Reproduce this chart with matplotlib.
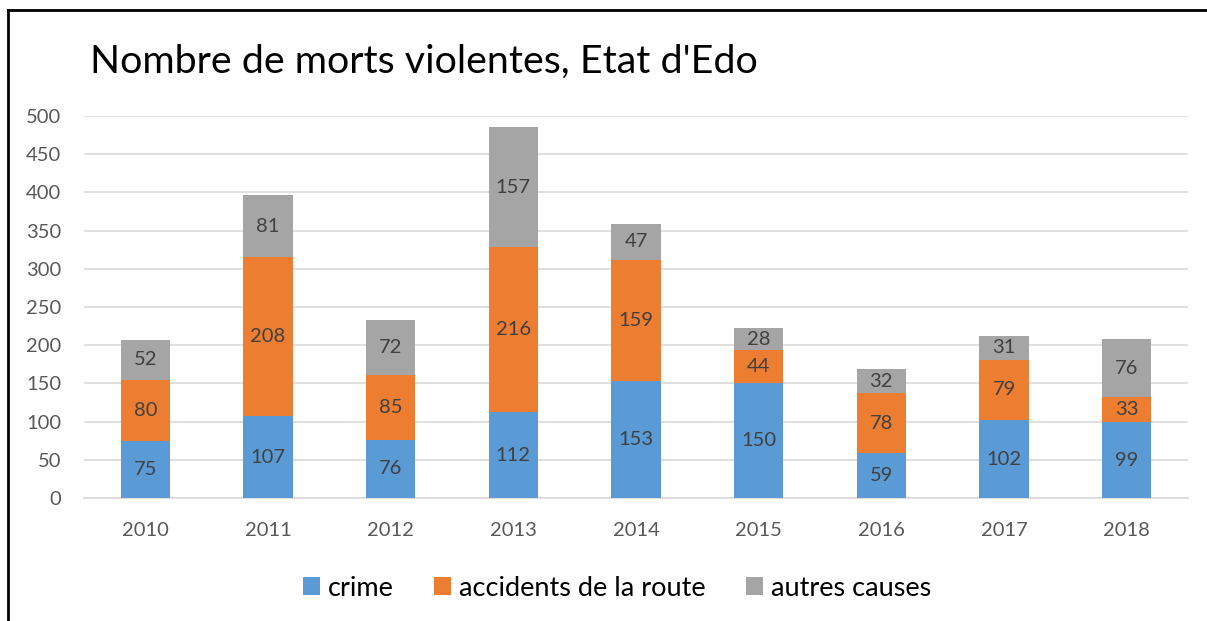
import matplotlib.pyplot as plt
import numpy as np

years = ["2010", "2011", "2012", "2013", "2014", "2015", "2016", "2017", "2018"]
crime = [75, 107, 76, 112, 153, 150, 59, 102, 99]
accidents = [80, 208, 85, 216, 159, 44, 78, 79, 33]
autres = [52, 81, 72, 157, 47, 28, 32, 31, 76]
series_names = ["crime", "accidents de la route", "autres causes"]
colors = ["#5B9BD5", "#ED7D31", "#A5A5A5"]

plt.rcParams["font.family"] = ["Lato", "DejaVu Sans"]

fig = plt.figure(figsize=(12.07, 6.21), dpi=100)
ax = fig.add_axes([84 / 1207, 1 - 498 / 621, 1104 / 1207, 382 / 621])

x = np.arange(len(years))
bottom = np.zeros(len(years))
handles = []
for vals, name, col in zip([crime, accidents, autres], series_names, colors):
    bars = ax.bar(x, vals, 0.4, bottom=bottom, color=col, label=name, zorder=3)
    handles.append(bars)
    for xi, b, v in zip(x, bottom, vals):
        ax.text(xi, b + v / 2, str(v), ha="center", va="center",
                fontsize=14.5, color="#404040", zorder=4)
    bottom += np.array(vals)

ax.set_xlim(-0.5, len(years) - 0.5)
ax.set_ylim(0, 500)
ax.set_yticks(np.arange(0, 501, 50))
ax.set_xticks(x)
ax.set_xticklabels(years)
ax.yaxis.grid(True, color="#D9D9D9", linewidth=1.2, zorder=0)
for s in ["top", "right", "left"]:
    ax.spines[s].set_visible(False)
ax.spines["bottom"].set_color("#D9D9D9")
ax.spines["bottom"].set_linewidth(1.2)
ax.tick_params(axis="both", length=0, labelsize=14.5, colors="#595959")
ax.tick_params(axis="x", pad=17.5)
ax.tick_params(axis="y", pad=16.5)

fig.text(90 / 1207, 1 - 62 / 621, "Nombre de morts violentes, Etat d'Edo",
         fontsize=28.4, color="black", va="center", ha="left")

fig.legend(handles=handles, labels=series_names, loc="center",
           bbox_to_anchor=(617 / 1207, 1 - 588 / 621), ncol=3, frameon=False,
           fontsize=19.5, handlelength=0.63, handleheight=0.63,
           handletextpad=0.3, columnspacing=1.48, labelcolor="#000000")

# partial frame of the original screenshot
fig.add_artist(plt.Line2D([8 / 1207, 8 / 1207], [0, 1 - 10 / 621],
                          transform=fig.transFigure, color="black", linewidth=2))
fig.add_artist(plt.Line2D([8 / 1207, 1], [1 - 10 / 621, 1 - 10 / 621],
                          transform=fig.transFigure, color="black", linewidth=2))

fig.savefig("out.png", dpi=100)
